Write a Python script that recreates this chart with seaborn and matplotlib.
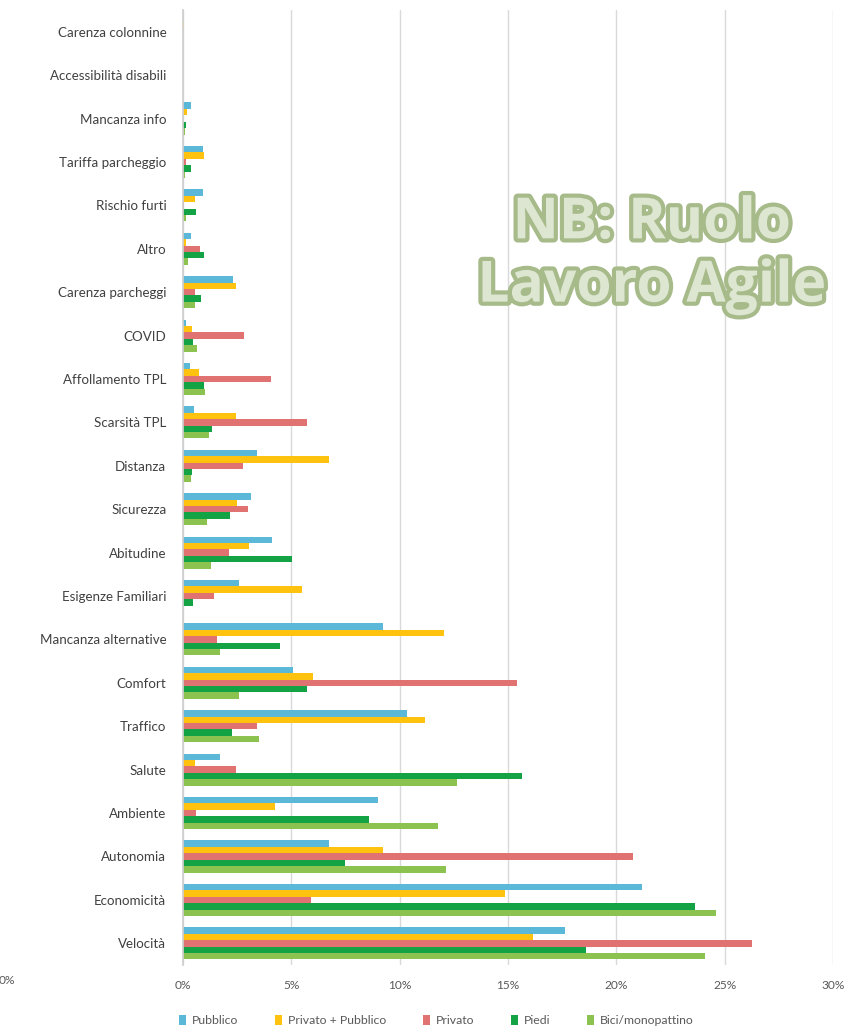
import numpy as np
import pandas as pd
import matplotlib
matplotlib.use("Agg")
import matplotlib.pyplot as plt
import matplotlib.patheffects as pe
from matplotlib.ticker import FuncFormatter
import seaborn as sns

# Motivazioni della scelta modale (% di risposte per modalità)
categorie = [
    "Carenza colonnine", "Accessibilità disabili", "Mancanza info",
    "Tariffa parcheggio", "Rischio furti", "Altro", "Carenza parcheggi",
    "COVID", "Affollamento TPL", "Scarsità TPL", "Distanza", "Sicurezza",
    "Abitudine", "Esigenze Familiari", "Mancanza alternative", "Comfort",
    "Traffico", "Salute", "Ambiente", "Autonomia", "Economicità", "Velocità",
]
serie = ["Pubblico", "Privato + Pubblico", "Privato", "Piedi", "Bici/monopattino"]

pubblico = [0.0, 0.0, 0.35, 0.92, 0.92, 0.35, 2.3, 0.15, 0.3, 0.5, 3.4, 3.12,
            4.09, 2.6, 9.21, 5.06, 10.32, 1.71, 9.0, 6.75, 21.2, 17.63]
privato_pubblico = [0.05, 0.0, 0.2, 0.95, 0.55, 0.15, 2.43, 0.4, 0.75, 2.45, 6.75, 2.48,
                    3.06, 5.48, 12.04, 5.98, 11.17, 0.55, 4.25, 9.21, 14.86, 16.17]
privato = [0.0, 0.0, 0.0, 0.15, 0.05, 0.8, 0.55, 2.8, 4.05, 5.74, 2.78, 3.0,
           2.14, 1.43, 1.58, 15.4, 3.43, 2.45, 0.6, 20.78, 5.91, 26.24]
piedi = [0.0, 0.0, 0.15, 0.35, 0.6, 0.97, 0.85, 0.48, 0.95, 1.32, 0.4, 2.17,
         5.02, 0.48, 4.48, 5.71, 2.25, 15.66, 8.6, 7.48, 23.63, 18.58]
bici = [0.0, 0.0, 0.1, 0.1, 0.15, 0.25, 0.55, 0.65, 1.0, 1.2, 0.35, 1.09,
        1.28, 0.0, 1.71, 2.57, 3.49, 12.66, 11.75, 12.14, 24.6, 24.09]

colori = ["#5bb8d9", "#ffc20e", "#e07272", "#13a345", "#8cc24f"]

valori = [pubblico, privato_pubblico, privato, piedi, bici]
df = pd.DataFrame({
    "categoria": np.repeat([categorie], len(serie), axis=0).ravel(),
    "modalita": np.repeat(serie, len(categorie)),
    "valore": np.concatenate(valori),
})

sns.set_theme(style="white")
plt.rcParams["font.family"] = ["Lato", "DejaVu Sans"]

fig = plt.figure(figsize=(8.48, 10.28), dpi=100)
ax = fig.add_axes([183 / 848, 1 - 965 / 1028, 650 / 848, 955 / 1028])

sns.barplot(data=df, y="categoria", x="valore", hue="modalita",
            order=categorie, hue_order=serie, palette=colori,
            orient="h", width=0.74, dodge=True, saturation=1,
            linewidth=0, ax=ax, legend=True)

ax.set_xlim(0, 30)
ax.set_xticks(np.arange(0, 31, 5))
ax.xaxis.set_major_formatter(FuncFormatter(lambda v, _: f"{v:.0f}%"))
ax.grid(axis="x", color="#d9d9d9", linewidth=1)
ax.set_axisbelow(True)
for s in ["top", "right", "bottom"]:
    ax.spines[s].set_visible(False)
ax.spines["left"].set_color("#cfcfcf")
ax.set_xlabel("")
ax.set_ylabel("")
ax.tick_params(axis="y", length=0, pad=12, labelsize=9.6, labelcolor="#404040")
ax.tick_params(axis="x", length=0, pad=11, labelsize=8.6, labelcolor="#595959")

leg = ax.legend(loc="center", bbox_to_anchor=(0.39, -0.058), ncol=5,
                frameon=False, fontsize=8.8, handlelength=0.55, handleheight=0.9,
                handletextpad=0.5, columnspacing=3.0)
for t in leg.get_texts():
    t.set_color("#595959")

# Etichetta residua dell'asse adiacente, tagliata dal bordo sinistro
fig.text(-0.002, 1 - 980 / 1028, "0%", fontsize=8.6, color="#595959",
         ha="left", va="center")

titolo = fig.text(652 / 848, 1 - 255 / 1028, "NB: Ruolo\nLavoro Agile",
                  fontsize=41, fontweight="bold", color="#dde6d1",
                  ha="center", va="center", linespacing=1.12,
                  family=["Open Sans", "DejaVu Sans"])
titolo.set_path_effects([pe.withStroke(linewidth=6, foreground="#a7ba89")])

fig.savefig("out.png", dpi=100, facecolor="white")
